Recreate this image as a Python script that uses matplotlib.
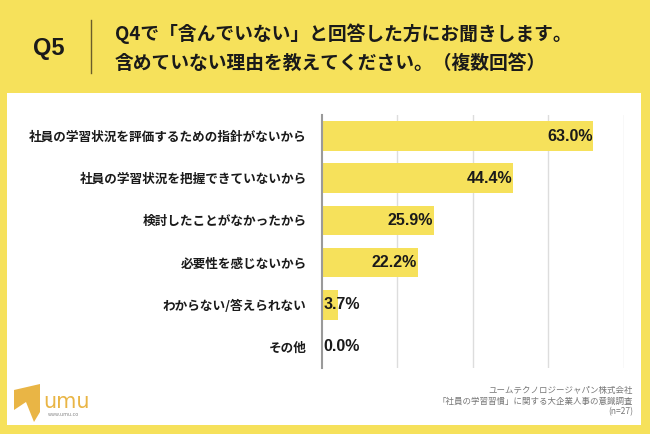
import matplotlib.pyplot as plt
from matplotlib.patches import Rectangle, Polygon
import numpy as np

plt.rcParams['font.family'] = ['Noto Sans CJK JP', 'DejaVu Sans']

# ── Data ──────────────────────────────────────────────────────────────────────
categories = [
    '社員の学習状況を評価するための指針がないから',
    '社員の学習状況を把握できていないから',
    '検討したことがなかったから',
    '必要性を感じないから',
    'わからない/答えられない',
    'その他',
]
values = [63.0, 44.4, 25.9, 22.2, 3.7, 0.0]

title_q = 'Q5'
title_lines = ['Q4で「含んでいない」と回答した方にお聞きします。',
               '含めていない理由を教えてください。（複数回答）']
footer_lines = ['ユームテクノロジージャパン株式会社',
                '「社員の学習習慣」に関する大企業人事の意識調査',
                '(n=27)']

YELLOW = '#F6E15B'
W, H = 650, 434

def fx(px):
    return px / W

def fy(py):
    return 1 - py / H

fig = plt.figure(figsize=(6.5, 4.34), dpi=100)
fig.patch.set_facecolor(YELLOW)

# white panel
fig.patches.append(Rectangle((fx(7), fy(425)), fx(641) - fx(7), fy(93) - fy(425),
                             transform=fig.transFigure, facecolor='white',
                             edgecolor='none', zorder=-10))

# ── Header ────────────────────────────────────────────────────────────────────
fig.text(fx(49), fy(48), title_q, ha='center', va='center', fontsize=17,
         fontweight='bold', color='#1a1a1a', family='Liberation Sans')
fig.add_artist(plt.Line2D([fx(91), fx(91)], [fy(20), fy(73)],
                          transform=fig.transFigure, color='#6b5d2a', lw=1))
fig.text(fx(115), fy(34), title_lines[0], ha='left', va='center', fontsize=13.5,
         fontweight='bold', color='#1a1a1a')
fig.text(fx(115), fy(63), title_lines[1], ha='left', va='center', fontsize=13.5,
         fontweight='bold', color='#1a1a1a')

# ── Bar chart ─────────────────────────────────────────────────────────────────
ax = fig.add_axes([fx(322), fy(368), fx(623.5) - fx(322), fy(115) - fy(368)])
ax.set_facecolor('none')
y = np.arange(len(categories))
ax.barh(y, values, height=0.70, color=YELLOW, zorder=2)
ax.set_xlim(0, 70)
ax.set_ylim(len(categories) - 0.5, -0.5)
ax.set_xticks([17.5, 35, 52.5, 70])
ax.set_xticklabels([])
ax.tick_params(axis='x', length=0)
ax.grid(axis='x', color='#dddddd', linewidth=1, zorder=0)
ax.set_yticks(y)
ax.set_yticklabels(categories, fontsize=9.1, fontweight='bold', color='#1a1a1a')
ax.tick_params(axis='y', length=0, pad=11)
for s in ['top', 'right', 'bottom']:
    ax.spines[s].set_visible(False)
ax.spines['left'].set_color('#9a9a9a')
ax.spines['left'].set_linewidth(1.5)
ax.spines['left'].set_zorder(3)

for yi, v in zip(y, values):
    if v >= 10:
        ax.text(v - 0.2, yi, f'{v:.1f}%', ha='right', va='center', fontsize=11.5,
                fontweight='bold', color='#1a1a1a', zorder=4, family='Liberation Sans')
    else:
        ax.text(0.4, yi, f'{v:.1f}%', ha='left', va='center', fontsize=11.5,
                fontweight='bold', color='#1a1a1a', zorder=4, family='Liberation Sans')

# ── Footer ────────────────────────────────────────────────────────────────────
for i, line in enumerate(footer_lines):
    fig.text(fx(633), fy(390 + 11 * i), line, ha='right', va='center',
             fontsize=6.1, color='#777777')

# logo
fig.patches.append(Polygon([(fx(14), fy(390)), (fx(40), fy(384)), (fx(40), fy(412)),
                            (fx(34), fy(422)), (fx(26), fy(402)), (fx(14), fy(410))],
                           closed=True, transform=fig.transFigure,
                           facecolor='#E9B545', edgecolor='none'))
fig.text(fx(43), fy(402), 'umu', ha='left', va='center', fontsize=15,
         color='#E9B545', family='DejaVu Sans')
fig.text(fx(48), fy(414), 'www.umu.co', ha='left', va='center', fontsize=3.5,
         color='#888888', family='DejaVu Sans')

fig.savefig('out.png', dpi=100, facecolor=YELLOW)
